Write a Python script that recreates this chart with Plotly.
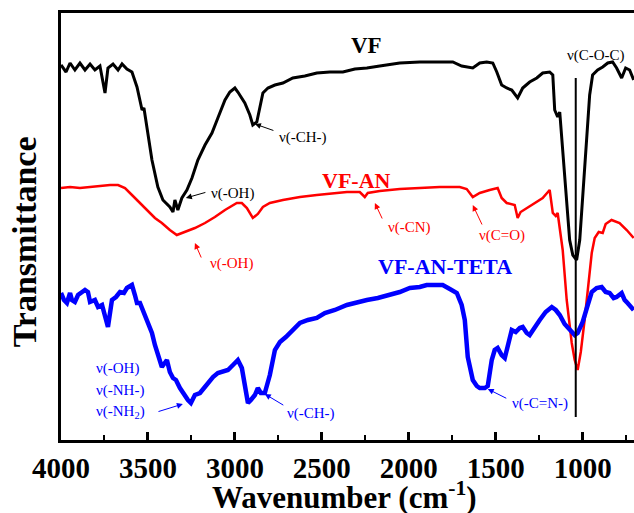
import plotly.graph_objects as go

# ---- data (wavenumber cm^-1, transmittance a.u.) ----
vf_wn = [4000, 3971, 3948, 3920, 3891, 3862, 3833, 3805, 3776, 3747, 3730, 3701, 3672, 3649, 3621,
         3592, 3563, 3546, 3534, 3523, 3506, 3477, 3443, 3414, 3374, 3356, 3345, 3328, 3305, 3276,
         3247, 3213, 3172, 3132, 3098, 3057, 3029, 3000, 2983, 2943, 2914, 2897, 2874, 2839, 2810,
         2770, 2724, 2667, 2598, 2529, 2454, 2379, 2310, 2241, 2167, 2052, 1937, 1822, 1747, 1696,
         1632, 1592, 1552, 1517, 1494, 1466, 1437, 1408, 1374, 1345, 1305, 1264, 1230, 1190, 1172,
         1161, 1144, 1132, 1115, 1092, 1075, 1057, 1046, 1035, 1017, 994, 977, 960, 943, 914, 885,
         856, 828, 805, 776, 753, 730, 707]
vf_t = [375, 368, 377, 370, 377, 370, 376, 370, 374, 347, 372, 376, 370, 376, 371,
        368, 353, 340, 330, 332, 313, 280, 253, 240, 233, 228, 240, 230, 242, 250,
        262, 280, 295, 307, 322, 340, 348, 352, 348, 337, 325, 315, 318, 347, 352,
        355, 357, 362, 364, 367, 368, 368, 371, 372, 374, 377, 378, 378, 378, 374,
        372, 377, 378, 377, 368, 355, 352, 350, 342, 352, 358, 362, 367, 368, 365,
        330, 323, 328, 290, 240, 200, 185, 182, 180, 200, 260, 305, 345, 365, 370, 373,
        377, 378, 372, 362, 372, 370, 360]

vfan_wn = [4000, 3948, 3891, 3833, 3776, 3718, 3672, 3632, 3592, 3546, 3500, 3460, 3420, 3374, 3334,
           3287, 3230, 3172, 3115, 3057, 2989, 2960, 2931, 2897, 2868, 2839, 2799, 2724, 2626, 2529,
           2425, 2356, 2282, 2253, 2236, 2167, 2052, 1954, 1822, 1707, 1667, 1632, 1592, 1535, 1489,
           1466, 1437, 1391, 1374, 1357, 1322, 1293, 1264, 1230, 1190, 1172, 1155, 1144, 1115, 1092,
           1063, 1046, 1029, 1011, 989, 971, 948, 931, 908, 885, 868, 834, 788, 747, 707]
vfan_t = [252, 253, 252, 253, 254, 255, 255, 252, 245, 237, 230, 222, 217, 210, 205,
          208, 212, 217, 223, 230, 237, 237, 232, 222, 226, 233, 237, 240, 243, 245,
          247, 248, 248, 243, 247, 249, 251, 252, 253, 253, 251, 243, 247, 250, 252,
          242, 237, 235, 222, 228, 232, 235, 238, 242, 250, 227, 224, 227, 190, 140,
          97, 80, 70, 88, 120, 150, 187, 202, 208, 207, 216, 220, 217, 210, 202]

teta_wn = [4000, 3983, 3966, 3948, 3937, 3920, 3902, 3862, 3845, 3833, 3805, 3787, 3764, 3747, 3730,
           3707, 3684, 3661, 3638, 3621, 3592, 3575, 3563, 3546, 3529, 3506, 3477, 3460, 3443, 3420,
           3391, 3374, 3356, 3339, 3316, 3287, 3270, 3253, 3230, 3201, 3172, 3155, 3126, 3098, 3069,
           3040, 3011, 2983, 2960, 2943, 2925, 2908, 2885, 2868, 2851, 2828, 2799, 2770, 2741, 2707,
           2667, 2626, 2580, 2529, 2483, 2425, 2356, 2299, 2241, 2178, 2109, 2052, 1994, 1937, 1897,
           1851, 1805, 1764, 1724, 1696, 1678, 1661, 1650, 1632, 1609, 1592, 1563, 1546, 1523, 1506,
           1489, 1466, 1448, 1425, 1408, 1385, 1362, 1345, 1322, 1305, 1276, 1247, 1213, 1178, 1155,
           1132, 1104, 1075, 1046, 1029, 1000, 971, 948, 920, 891, 868, 845, 822, 805, 776,
           759, 747, 730, 707]
teta_t = [147, 140, 137, 147, 140, 138, 145, 150, 148, 138, 140, 133, 135, 123, 113,
          140, 143, 148, 147, 152, 155, 145, 137, 137, 130, 118, 107, 95, 87, 73,
          80, 68, 62, 60, 52, 43, 40, 37, 45, 47, 53, 57, 63, 67, 68,
          70, 75, 80, 72, 55, 37, 40, 45, 52, 47, 47, 65, 90, 98, 103,
          110, 117, 120, 122, 127, 130, 135, 138, 140, 142, 145, 148, 152, 153, 155,
          155, 155, 151, 147, 135, 120, 83, 75, 60, 54, 52, 52, 54, 80, 90,
          92, 85, 82, 100, 110, 108, 112, 113, 107, 105, 113, 120, 128, 133, 130,
          125, 116, 110, 105, 107, 118, 135, 148, 152, 153, 148, 147, 142, 143, 147,
          140, 138, 135, 130]

x_ticks = [4000, 3500, 3000, 2500, 2000, 1500, 1000]
coc_wn = 1040
coc_span = [362, 23]

SERIF = "Liberation Serif, Times New Roman, serif"
BLACK, RED, BLUE = "#000000", "#ff0000", "#0000ff"

fig = go.Figure()
fig.add_trace(go.Scatter(x=vf_wn, y=vf_t, mode="lines", line=dict(color=BLACK, width=3), showlegend=False))
fig.add_trace(go.Scatter(x=vfan_wn, y=vfan_t, mode="lines", line=dict(color=RED, width=2.5), showlegend=False))
fig.add_trace(go.Scatter(x=teta_wn, y=teta_t, mode="lines", line=dict(color=BLUE, width=4.5), showlegend=False))

# C-O-C marker line
fig.add_shape(type="line", x0=coc_wn, x1=coc_wn, y0=coc_span[0], y1=coc_span[1],
              line=dict(color=BLACK, width=2), xref="x", yref="y")

def label(text, x, y, color, size=15, bold=False, xanchor="center"):
    t = f"<b>{text}</b>" if bold else text
    fig.add_annotation(x=x, y=y, text=t, showarrow=False, xref="x", yref="y",
                       xanchor=xanchor, yanchor="middle",
                       font=dict(family=SERIF, size=size, color=color))

def arrow(x0, y0, x1, y1, color):
    fig.add_annotation(x=x1, y=y1, ax=x0, ay=y0, xref="x", yref="y", axref="x", ayref="y",
                       text="", showarrow=True, arrowhead=2, arrowsize=1.2, arrowwidth=1,
                       arrowcolor=color, standoff=0, startstandoff=0)

# series names
label("VF", 2241, 395, BLACK, size=23, bold=True)
label("VF-AN", 2300, 260, RED, size=22, bold=True)
label("VF-AN-TETA", 1790, 174, BLUE, size=22, bold=True)

# black annotations
label("ν(-CH-)", 2609, 303, BLACK)
arrow(2770, 309, 2885, 316, BLACK)
label("ν(-OH)", 3012, 247, BLACK)
arrow(3161, 248, 3282, 242, BLACK)
label("ν(C-O-C)", 925, 385, BLACK)

# red annotations
label("ν(-OH)", 3017, 177, RED)
arrow(3190, 181, 3230, 197, RED)
label("ν(-CN)", 1994, 213, RED)
arrow(2149, 220, 2195, 237, RED)
label("ν(C=O)", 1466, 205, RED)
arrow(1575, 214, 1632, 235, RED)

# blue annotations
label("ν(-OH)", 3810, 72, BLUE, xanchor="left")
label("ν(-NH-)", 3810, 50, BLUE, xanchor="left")
label("ν(-NH<sub>2</sub>)", 3810, 28, BLUE, xanchor="left")
arrow(3448, 28, 3299, 36, BLUE)
label("ν(-CH-)", 2713, 27, BLUE, xanchor="left")
arrow(2713, 34, 2828, 46, BLUE)
label("ν(-C=N-)", 1420, 37, BLUE, xanchor="left")
arrow(1431, 41, 1546, 51, BLUE)

# axis titles
fig.add_annotation(text="<b>Wavenumber (cm<sup>-1</sup>)</b>", xref="paper", yref="paper",
                   x=0.495, y=-0.131, showarrow=False, xanchor="center", yanchor="middle",
                   font=dict(family=SERIF, size=31, color=BLACK))
fig.add_annotation(text="<b>Transmittance</b>", xref="paper", yref="paper",
                   x=-0.063, y=0.465, showarrow=False, textangle=-90, xanchor="center", yanchor="middle",
                   font=dict(family=SERIF, size=34, color=BLACK))

fig.update_xaxes(range=[4000, 705], tickvals=x_ticks, ticks="inside", ticklen=8, tickwidth=2.5,
                 tickcolor=BLACK, showline=True, linewidth=3, linecolor=BLACK, mirror=True,
                 showgrid=False, zeroline=False,
                 minor=dict(dtick=250, tick0=0, ticks="inside", ticklen=5, tickwidth=2, tickcolor=BLACK),
                 tickfont=dict(family=SERIF, size=29, color=BLACK, weight="bold"))
fig.update_yaxes(range=[0, 427], showticklabels=False, ticks="", showline=True, linewidth=3,
                 linecolor=BLACK, mirror=False, showgrid=False, zeroline=False)

fig.update_layout(width=634, height=513, margin=dict(l=61, r=0, t=13, b=73),
                  plot_bgcolor="white", paper_bgcolor="white")

fig.write_html("out.html")
